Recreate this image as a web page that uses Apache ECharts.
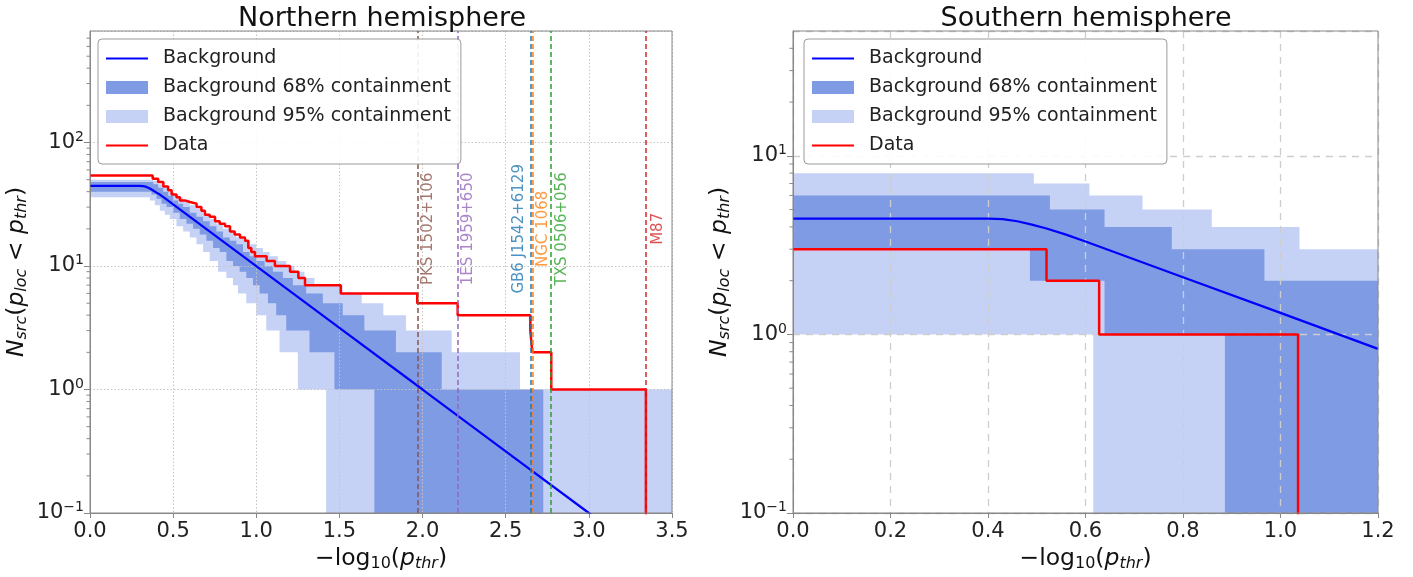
<!DOCTYPE html>
<html>
<head>
<meta charset="utf-8">
<script src="https://cdn.jsdelivr.net/npm/echarts@6/dist/echarts.min.js"></script>
<style>html,body{margin:0;padding:0;background:#fff}#c{width:1413px;height:577px}</style>
</head>
<body>
<div id="c"></div>
<script>
// ---------------- DATA ----------------
// Northern hemisphere  ([x, N]; step value holds from x to next x)
const northBackground = [[0,44.6],[0.30,44.6],[0.32,44.4],[0.34,43.7],[0.36,42.4],[0.38,40.9],[0.40,39.3],[0.42,37.9],[0.45,35.5],[0.5,31.6],[1.0,10],[1.5,3.16],[2.0,1.0],[2.5,0.316],[3.0,0.1],[3.5,0.0316]];
const northData = [[0,54],[0.377,51],[0.41,48],[0.441,44],[0.47,41],[0.491,38],[0.52,36],[0.541,34],[0.57,33],[0.601,32],[0.641,30],[0.67,28],[0.691,26],[0.72,25],[0.752,23],[0.78,22],[0.812,21],[0.842,19],[0.87,18],[0.902,17],[0.932,16],[0.952,14],[0.97,13],[0.992,12],[1.062,11],[1.112,10],[1.203,9],[1.253,8],[1.293,7],[1.508,6],[1.968,5],[2.211,4],[2.648,3],[2.66,2],[2.774,1],[3.343,0]];
const northUpper68 = [[0,48],[0.38,46],[0.41,43],[0.44,40],[0.47,37],[0.50,34],[0.53,32],[0.56,30],[0.60,27],[0.64,25],[0.68,23],[0.72,21],[0.76,19],[0.80,17],[0.84,16],[0.88,15],[0.92,13],[0.96,12],[1.00,11],[1.05,10],[1.10,9],[1.16,8],[1.22,7],[1.30,6],[1.40,5],[1.52,4],[1.65,3],[1.84,2],[2.115,1],[2.726,0]];
const northLower68 = [[0,40],[0.37,38],[0.40,35],[0.43,32],[0.46,30],[0.50,27],[0.54,24],[0.58,22],[0.62,20],[0.66,18],[0.70,16],[0.74,14],[0.78,13],[0.82,11],[0.86,10],[0.90,9],[0.94,8],[0.98,7],[1.02,6],[1.07,5],[1.12,4],[1.18,3],[1.32,2],[1.47,1],[1.71,0]];
const northUpper95 = [[0,50],[0.38,49],[0.41,46],[0.44,43],[0.47,40],[0.50,38],[0.53,36],[0.56,34],[0.60,31],[0.64,29],[0.68,26],[0.72,24],[0.76,22],[0.80,20],[0.84,19],[0.88,17],[0.92,16],[0.96,15],[1.00,14],[1.04,13],[1.08,12],[1.13,11],[1.18,10],[1.23,9],[1.29,8],[1.35,7],[1.52,6],[1.634,5],[1.764,4],[1.90,3],[2.175,2],[2.586,1]];
const northLower95 = [[0,36],[0.36,34],[0.39,31],[0.42,28],[0.45,26],[0.48,24],[0.52,21],[0.56,19],[0.60,17],[0.64,15],[0.68,13],[0.72,11],[0.77,9],[0.82,8],[0.86,7],[0.89,6],[0.94,5],[1.00,4],[1.06,3],[1.14,2],[1.25,1],[1.42,0]];

// Sources marked in the northern panel
const sourceNames = ['PKS 1502+106','1ES 1959+650','GB6 J1542+6129','NGC 1068','TXS 0506+056','M87'];
const sourceX = [1.97, 2.21, 2.645, 2.66, 2.775, 3.343];
const sourceLabelN = 20;

// Southern hemisphere
const southBackground = [[0,4.45],[0.40,4.45],[0.43,4.42],[0.46,4.3],[0.49,4.12],[0.52,3.92],[0.56,3.62],[0.60,3.31],[0.8,2.09],[1.0,1.32],[1.2,0.83]];
const southData = [[0,3],[0.52,2],[0.628,1],[1.036,0]];
const southUpper68 = [[0,6],[0.527,5],[0.639,4],[0.777,3],[0.967,2]];
const southLower68 = [[0,3],[0.486,2],[0.639,1],[0.886,0]];
const southUpper95 = [[0,8],[0.494,7],[0.608,6],[0.717,5],[0.859,4],[1.039,3]];
const southLower95 = [[0,1],[0.616,0]];

// Tick labels
const northXTicks = ['0.0','0.5','1.0','1.5','2.0','2.5','3.0','3.5'];
const southXTicks = ['0.0','0.2','0.4','0.6','0.8','1.0','1.2'];
const minorTickValues = [0.2,0.3,0.4,0.5,0.6,0.7,0.8,0.9,2,3,4,5,6,7,8,9,20,30,40,50,60,70,80,90,200,300,400,500,600,700];

// ---------------- STYLE ----------------
const FONT = 'DejaVu Sans';
const C_DARK = '#7f9be4';
const C_LIGHT = '#c5d2f5';
const C_BLUE = '#0000ff';
const C_RED = '#ff0000';
const srcColors = ['#8c564b','#9467bd','#1f77b4','#ff7f0e','#2ca02c','#d62728'];
const srcOffsets = [11, 11, -11, 11, 11, 12];
const Y_EXT = [[0.1, 800], [0.1, 50]];
const X_EXT = [[0, 3.5], [0, 1.2]];

const chart = echarts.init(document.getElementById('c'));

const nameRich = {
  n: {fontSize: 23.5, fontFamily: FONT, color: '#111'},
  it: {fontSize: 23.5, fontFamily: FONT, fontStyle: 'italic', color: '#111'},
  sub: {fontSize: 16, fontFamily: FONT, color: '#111', padding: [10, 0, 0, 0]},
  subit: {fontSize: 16, fontFamily: FONT, fontStyle: 'italic', color: '#111', padding: [10, 0, 0, 0]}
};

function fmtPow(v) {
  const l = Math.log10(v);
  const e = Math.round(l);
  if (Math.abs(l - e) > 1e-6) return '';
  return '10{sup|' + (e < 0 ? '\u2212' + (-e) : e) + '}';
}

function mkX(gi, interval, labels, gridStyle) {
  return {
    type: 'value', gridIndex: gi, min: X_EXT[gi][0], max: X_EXT[gi][1], interval: interval, z: 2,
    name: '{n|\u2212log}{sub|10}{n|(}{it|p}{subit|thr}{n|)}',
    nameLocation: 'middle', nameGap: 33,
    nameTextStyle: {rich: nameRich},
    axisLine: {show: true, onZero: false, lineStyle: {color: '#888'}},
    axisTick: {show: true, length: 5, lineStyle: {color: '#888'}},
    axisLabel: {fontSize: 21, fontFamily: FONT, color: '#222', margin: 8,
      formatter: (v) => labels[Math.round((v - X_EXT[gi][0]) / interval)]},
    splitLine: {show: true, lineStyle: gridStyle}
  };
}
function mkY(gi, gridStyle) {
  return {
    type: 'log', logBase: 10, gridIndex: gi, min: Y_EXT[gi][0], max: Y_EXT[gi][1], z: 2,
    name: '{it|N}{subit|src}{n|(}{it|p}{subit|loc}{n| < }{it|p}{subit|thr}{n|)}',
    nameLocation: 'middle', nameGap: 60, nameRotate: 90,
    nameTextStyle: {rich: nameRich},
    axisLine: {show: true, lineStyle: {color: '#888'}},
    axisTick: {show: true, length: 6, lineStyle: {color: '#888'}},
    axisLabel: {fontSize: 21, fontFamily: FONT, color: '#222', margin: 6, formatter: fmtPow,
      showMaxLabel: false,
      rich: {sup: {fontSize: 14, fontFamily: FONT, color: '#222', padding: [0, 0, 11, 0]}}},
    splitLine: {show: true, lineStyle: gridStyle}
  };
}

function bandSeries(name, upper, lower, color, gi) {
  return {
    type: 'custom', name: name, xAxisIndex: gi, yAxisIndex: gi, z: 1, silent: true,
    itemStyle: {color: color}, data: [[X_EXT[gi][0], Y_EXT[gi][0]]],
    renderItem: function (params, api) {
      const yMin = Y_EXT[gi][0], xMax = X_EXT[gi][1];
      const cl = (v) => Math.max(v, yMin);
      const pts = [];
      for (let i = 0; i < upper.length; i++) {
        const x1 = i + 1 < upper.length ? upper[i + 1][0] : xMax;
        pts.push(api.coord([upper[i][0], cl(upper[i][1])]));
        pts.push(api.coord([x1, cl(upper[i][1])]));
      }
      for (let i = lower.length - 1; i >= 0; i--) {
        const x1 = i + 1 < lower.length ? lower[i + 1][0] : xMax;
        pts.push(api.coord([x1, cl(lower[i][1])]));
        pts.push(api.coord([lower[i][0], cl(lower[i][1])]));
      }
      return {type: 'polygon', shape: {points: pts}, style: {fill: color}};
    }
  };
}
const toLog = (arr) => arr.map(p => [p[0], p[1] > 0 ? p[1] : 1e-3]);

function lineSeries(name, data, color, width, gi, step) {
  return {type: 'line', name: name, xAxisIndex: gi, yAxisIndex: gi, z: 4, data: toLog(data),
    step: step, symbol: 'none', showSymbol: false, clip: true, silent: true,
    lineStyle: {color: color, width: width}, itemStyle: {color: color}};
}
function minorTicks(gi) {
  return {type: 'custom', xAxisIndex: gi, yAxisIndex: gi, z: 3, silent: true, clip: false,
    data: minorTickValues.filter(v => v > Y_EXT[gi][0] && v < Y_EXT[gi][1]).map(v => [X_EXT[gi][0], v]),
    renderItem: function (params, api) {
      const p = api.coord([api.value(0), api.value(1)]);
      return {type: 'line', shape: {x1: p[0] - 3.5, y1: p[1], x2: p[0], y2: p[1]}, style: {stroke: '#888', lineWidth: 1}};
    }};
}

const legendNames = ['Background', 'Background 68% containment', 'Background 95% containment', 'Data'];
function mkLegend(left) {
  return {
    left: left, top: 39, orient: 'vertical', z: 10,
    padding: [9, 10, 8, 7], itemGap: 8, itemWidth: 42, itemHeight: 13,
    backgroundColor: 'rgba(255,255,255,0.9)', borderColor: '#9a9a9a', borderWidth: 1, borderRadius: 4,
    textStyle: {fontSize: 19, fontFamily: FONT, color: '#222', lineHeight: 21, padding: [0, 0, 0, 10]},
    selectedMode: false,
    data: [
      {name: legendNames[0], itemStyle: {opacity: 0}},
      {name: legendNames[1], icon: 'rect'},
      {name: legendNames[2], icon: 'rect'},
      {name: legendNames[3], itemStyle: {opacity: 0}}
    ]
  };
}

const gridDotted = {color: '#c4c4c4', type: [1.5, 2], width: 1};
const gridDashed = {color: '#cdcdcd', type: [7, 6], width: 1.3};

const option = {
  animation: false,
  backgroundColor: '#fff',
  textStyle: {fontFamily: FONT},
  title: [
    {text: 'Northern hemisphere', left: 377, top: 0, textAlign: 'center',
      textStyle: {fontSize: 27, fontWeight: 'normal', fontFamily: FONT, color: '#111'}},
    {text: 'Southern hemisphere', left: 1081, top: 0, textAlign: 'center',
      textStyle: {fontSize: 27, fontWeight: 'normal', fontFamily: FONT, color: '#111'}}
  ],
  legend: [mkLegend(98), mkLegend(804)],
  grid: [
    {left: 90, right: 741, top: 31, bottom: 57, show: true, borderColor: '#888', borderWidth: 1, z: 5, backgroundColor: 'transparent'},
    {left: 793, right: 35, top: 31, bottom: 57, show: true, borderColor: '#888', borderWidth: 1, z: 5, backgroundColor: 'transparent'}
  ],
  xAxis: [mkX(0, 0.5, northXTicks, gridDotted), mkX(1, 0.2, southXTicks, gridDashed)],
  yAxis: [mkY(0, gridDotted), mkY(1, gridDashed)],
  series: [
    bandSeries(legendNames[2], northUpper95, northLower95, C_LIGHT, 0),
    bandSeries(legendNames[1], northUpper68, northLower68, C_DARK, 0),
    bandSeries(legendNames[2], southUpper95, southLower95, C_LIGHT, 1),
    bandSeries(legendNames[1], southUpper68, southLower68, C_DARK, 1),
    {
      type: 'scatter', name: 'sources', xAxisIndex: 0, yAxisIndex: 0, z: 3, silent: true,
      symbolSize: 0,
      data: sourceNames.map((n, i) => ({name: n, value: [sourceX[i], sourceLabelN],
        label: {color: srcColors[i], offset: [0, srcOffsets[i]]}})),
      label: {show: true, formatter: '{b}', rotate: 90, position: 'inside', align: 'center', verticalAlign: 'middle',
        fontSize: 15, fontFamily: FONT},
      markLine: {
        symbol: 'none', silent: true, animation: false, label: {show: false},
        data: sourceX.map((x, i) => ({xAxis: x, lineStyle: {color: srcColors[i], type: [5, 3], width: 1.5}}))
      }
    },
    lineSeries(legendNames[0], northBackground, C_BLUE, 2.2, 0, false),
    lineSeries(legendNames[3], northData, C_RED, 2.5, 0, 'end'),
    lineSeries(legendNames[0], southBackground, C_BLUE, 2.2, 1, false),
    lineSeries(legendNames[3], southData, C_RED, 2.5, 1, 'end'),
    minorTicks(0),
    minorTicks(1)
  ]
};
chart.setOption(option);
</script>
</body>
</html>
